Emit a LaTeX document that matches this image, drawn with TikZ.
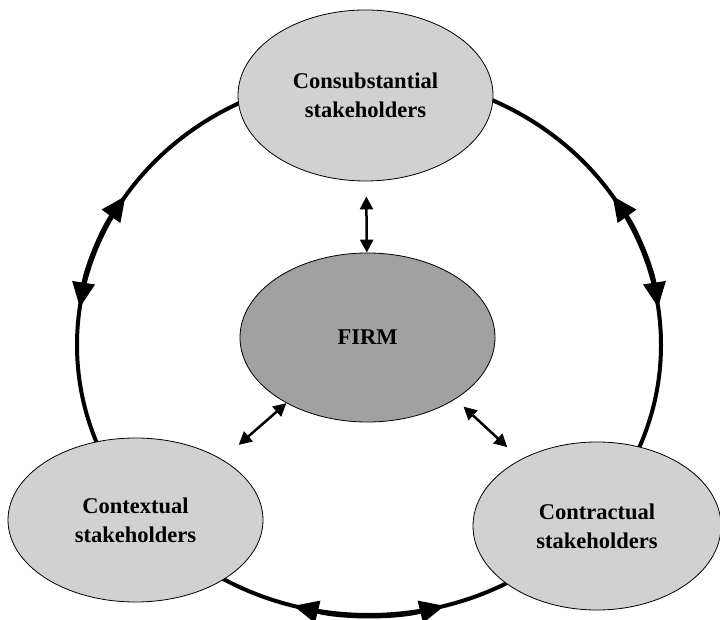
\documentclass[tikz,border=0pt]{standalone}
\usepackage{fontspec}
\setmainfont{Liberation Serif}
\usetikzlibrary{shapes.geometric,arrows.meta}
\tikzset{
  party/.style={draw, shape=ellipse, line width=.8pt, fill=black!18, inner sep=0pt,
    minimum width=255pt, minimum height=168pt, align=center,
    font=\bfseries\fontsize{22.5}{29}\selectfont},
  ring/.style={line width=4pt},
  ringtips/.style={{Triangle[length=25pt,width=22pt]}-{Triangle[length=25pt,width=22pt]}},
  link/.style={line width=2.5pt, {Triangle[length=13pt,width=13pt]}-{Triangle[length=13pt,width=13pt]}}
}
\begin{document}
\begin{tikzpicture}[x=1pt,y=1pt]
	\useasboundingbox (0,0) rectangle (720,619);
	% outer ring
	\draw[ring] (369,274) ellipse [x radius=292, y radius=270];
	\draw[ring, ringtips] (369,274) ++(146.5:292 and 270) arc[start angle=146.5, end angle=172, x radius=292, y radius=270];
	\draw[ring, ringtips] (369,274) ++(8:292 and 270) arc[start angle=8, end angle=33.5, x radius=292, y radius=270];
	\draw[ring, ringtips] (369,274) ++(255:292 and 270) arc[start angle=255, end angle=285, x radius=292, y radius=270];

	\node[party, minimum height=171pt] (CS) at (365.5,523.5) {Consubstantial\\stakeholders};
	\node[party, fill=black!37, minimum height=169pt] (FI) at (367.5,281.5) {FIRM};
	\node[party, minimum height=164pt] (CX) at (135.5,99) {Contextual\\stakeholders};
	\node[party, minimum width=248pt] (CT) at (597,93) {Contractual\\stakeholders};

	\draw[link, shorten <=15pt] (CS)--(FI);
	\draw[link, shorten >=22pt] (FI.219)--(CX.35);
	\draw[link, shorten <=11pt, shorten >=18pt] (FI.325)--(CT.139);
\end{tikzpicture}
\end{document}
